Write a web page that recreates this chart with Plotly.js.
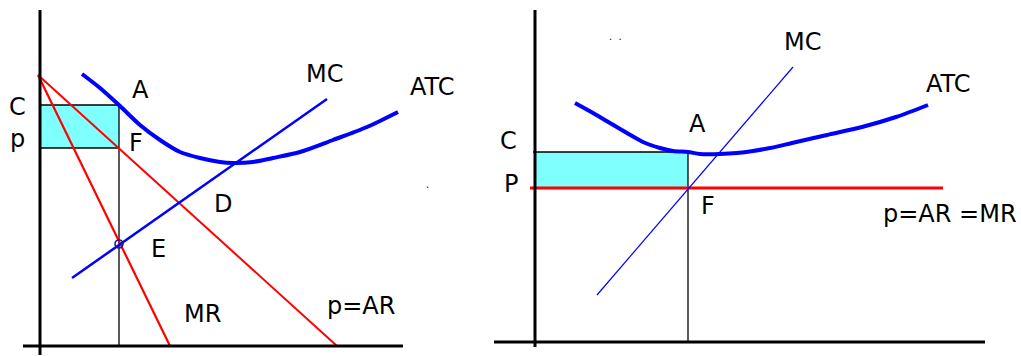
<!DOCTYPE html>
<html>
<head>
<meta charset="utf-8">
<script src="https://cdn.plot.ly/plotly-3.0.1.min.js"></script>
<style>html,body{margin:0;padding:0;background:#fff;}#chart{width:1021px;height:356px;}</style>
</head>
<body>
<div id="chart"></div>
<script>
// ---------- Left panel: monopoly (loss) ----------
const monoDemandQ = [-0.2, 29.7];
const monoDemandP = [27.1, 0];
const monoMRQ = [-0.2, 13.0];
const monoMRP = [27.1, 0];
const monoMCQ = [3.2, 28.7];
const monoMCP = [6.8, 24.7];
const monoATCQ = [4.2, 6.0, 8.0, 10.0, 12.0, 14.0, 16.0, 18.0, 19.3, 21.3, 23.3, 26.0, 29.3, 32.7, 35.8];
const monoATCP = [27.2, 25.8, 24.0, 22.1, 20.6, 19.4, 18.8, 18.4, 18.3, 18.4, 18.8, 19.4, 20.6, 21.9, 23.4];
const monoQstar = 7.9;
const monoCost = 24.1;
const monoPrice = 19.8;
const monoEQ = [7.9];
const monoEP = [10.2];

// ---------- Right panel: perfect competition ----------
const compPriceQ = [-0.5, 40.8];
const compPrice = 15.4;
const compMCQ = [6.2, 25.8];
const compMCP = [4.7, 27.5];
const compATCQ = [4.0, 5.8, 7.5, 9.2, 10.8, 12.5, 13.8, 15.3, 16.5, 18.5, 20.2, 21.8, 23.5, 25.7, 29.2, 32.7, 36.1, 39.3];
const compATCP = [23.9, 22.9, 21.9, 20.9, 20.0, 19.4, 19.1, 19.0, 18.8, 18.8, 18.9, 19.1, 19.4, 19.9, 20.7, 21.5, 22.5, 23.7];
const compQstar = 15.3;
const compCost = 19.0;

const BLUE = '#0000ff', RED = '#ff0000', CYAN = '#80ffff', BLACK = '#000000';
const FONT = {family: 'DejaVu Sans, Verdana, sans-serif', size: 24, color: BLACK};

function line(x, y, color, width, axes, shape) {
  return {x: x, y: y, type: 'scatter', mode: 'lines', hoverinfo: 'skip',
    line: {color: color, width: width, shape: shape || 'linear', smoothing: 0.8},
    xaxis: axes[0], yaxis: axes[1], showlegend: false};
}
const L = ['x', 'y'], R = ['x2', 'y2'];

const traces = [
  // left panel
  line([0, monoQstar], [monoCost, monoCost], BLACK, 1.3, L),
  line([0, monoQstar], [monoPrice, monoPrice], BLACK, 1.3, L),
  line([monoQstar, monoQstar], [monoCost, 0], BLACK, 1.3, L),
  line(monoDemandQ, monoDemandP, RED, 2, L),
  line(monoMRQ, monoMRP, RED, 2.2, L),
  line(monoMCQ, monoMCP, BLUE, 2.5, L),
  line(monoATCQ, monoATCP, BLUE, 4, L, 'spline'),
  {x: monoEQ, y: monoEP, type: 'scatter', mode: 'markers', hoverinfo: 'skip', showlegend: false,
   marker: {symbol: 'circle-open', size: 8, color: '#1a1a80', line: {width: 1.6, color: '#1a1a80'}},
   xaxis: 'x', yaxis: 'y'},
  // right panel
  line([-0.2, compQstar], [compCost, compCost], BLACK, 1.3, R),
  line([compQstar, compQstar], [compCost, 0], BLACK, 1.3, R),
  line(compPriceQ, [compPrice, compPrice], RED, 3, R),
  line(compMCQ, compMCP, BLUE, 1.2, R),
  line(compATCQ, compATCP, BLUE, 4, R, 'spline')
];

const shapes = [
  {type: 'rect', xref: 'x', yref: 'y', x0: 0, x1: monoQstar, y0: monoPrice, y1: monoCost,
   fillcolor: CYAN, line: {width: 0}, layer: 'below'},
  {type: 'rect', xref: 'x2', yref: 'y2', x0: 0, x1: compQstar, y0: compPrice, y1: compCost,
   fillcolor: CYAN, line: {width: 0}, layer: 'below'},
  // axes (left)
  {type: 'line', xref: 'x', yref: 'y', x0: 0, x1: 0, y0: -0.9, y1: 33.6, line: {color: BLACK, width: 3}},
  {type: 'line', xref: 'x', yref: 'y', x0: -1.7, x1: 36.3, y0: 0, y1: 0, line: {color: BLACK, width: 3}},
  // axes (right)
  {type: 'line', xref: 'x2', yref: 'y2', x0: 0, x1: 0, y0: -0.5, y1: 33.2, line: {color: BLACK, width: 3}},
  {type: 'line', xref: 'x2', yref: 'y2', x0: -4.1, x1: 45.0, y0: 0, y1: 0, line: {color: BLACK, width: 3}}
];

function lab(text, x, y, axes, size) {
  return {text: text, x: x, y: y, xref: axes[0], yref: axes[1], showarrow: false,
    xanchor: 'center', yanchor: 'middle', font: Object.assign({}, FONT, size ? {size: size} : {})};
}
const annotations = [
  lab('C', -2.3, 23.9, L),
  lab('p', -2.25, 20.75, L),
  lab('A', 10.0, 25.6, L),
  lab('F', 9.6, 20.3, L),
  lab('MC', 28.4, 27.2, L),
  lab('ATC', 39.2, 25.9, L),
  lab('D', 18.3, 14.2, L),
  lab('E', 11.8, 9.7, L),
  lab('MR', 16.2, 3.2, L),
  lab('p=AR', 32.1, 4.0, L),
  lab('.', 38.7, 16.2, L, 10),
  lab('MC', 26.7, 30.0, R),
  lab('ATC', 41.3, 25.8, R),
  lab('A', 16.2, 21.8, R),
  lab('C', -2.7, 20.1, R),
  lab('P', -2.4, 15.8, R),
  lab('F', 17.3, 13.6, R),
  lab('p=AR =MR', 41.5, 12.8, R),
  lab('.&nbsp;&nbsp;.', 8.0, 30.6, R, 10)
];

const ax = {visible: false, showgrid: false, zeroline: false, fixedrange: true};
const layout = {
  width: 1021, height: 356,
  margin: {l: 0, r: 0, t: 0, b: 0, pad: 0},
  paper_bgcolor: '#ffffff', plot_bgcolor: '#ffffff',
  showlegend: false,
  xaxis: Object.assign({}, ax, {range: [-4.0, 98.1], domain: [0, 1]}),
  yaxis: Object.assign({}, ax, {range: [-1.0, 34.6], domain: [0, 1]}),
  xaxis2: Object.assign({}, ax, {range: [-53.5, 48.6], domain: [0, 1], overlaying: 'x', anchor: 'y2'}),
  yaxis2: Object.assign({}, ax, {range: [-1.4, 34.2], domain: [0, 1], overlaying: 'y', anchor: 'x2'}),
  shapes: shapes,
  annotations: annotations
};

Plotly.newPlot('chart', traces, layout, {displayModeBar: false, staticPlot: true});
</script>
</body>
</html>
